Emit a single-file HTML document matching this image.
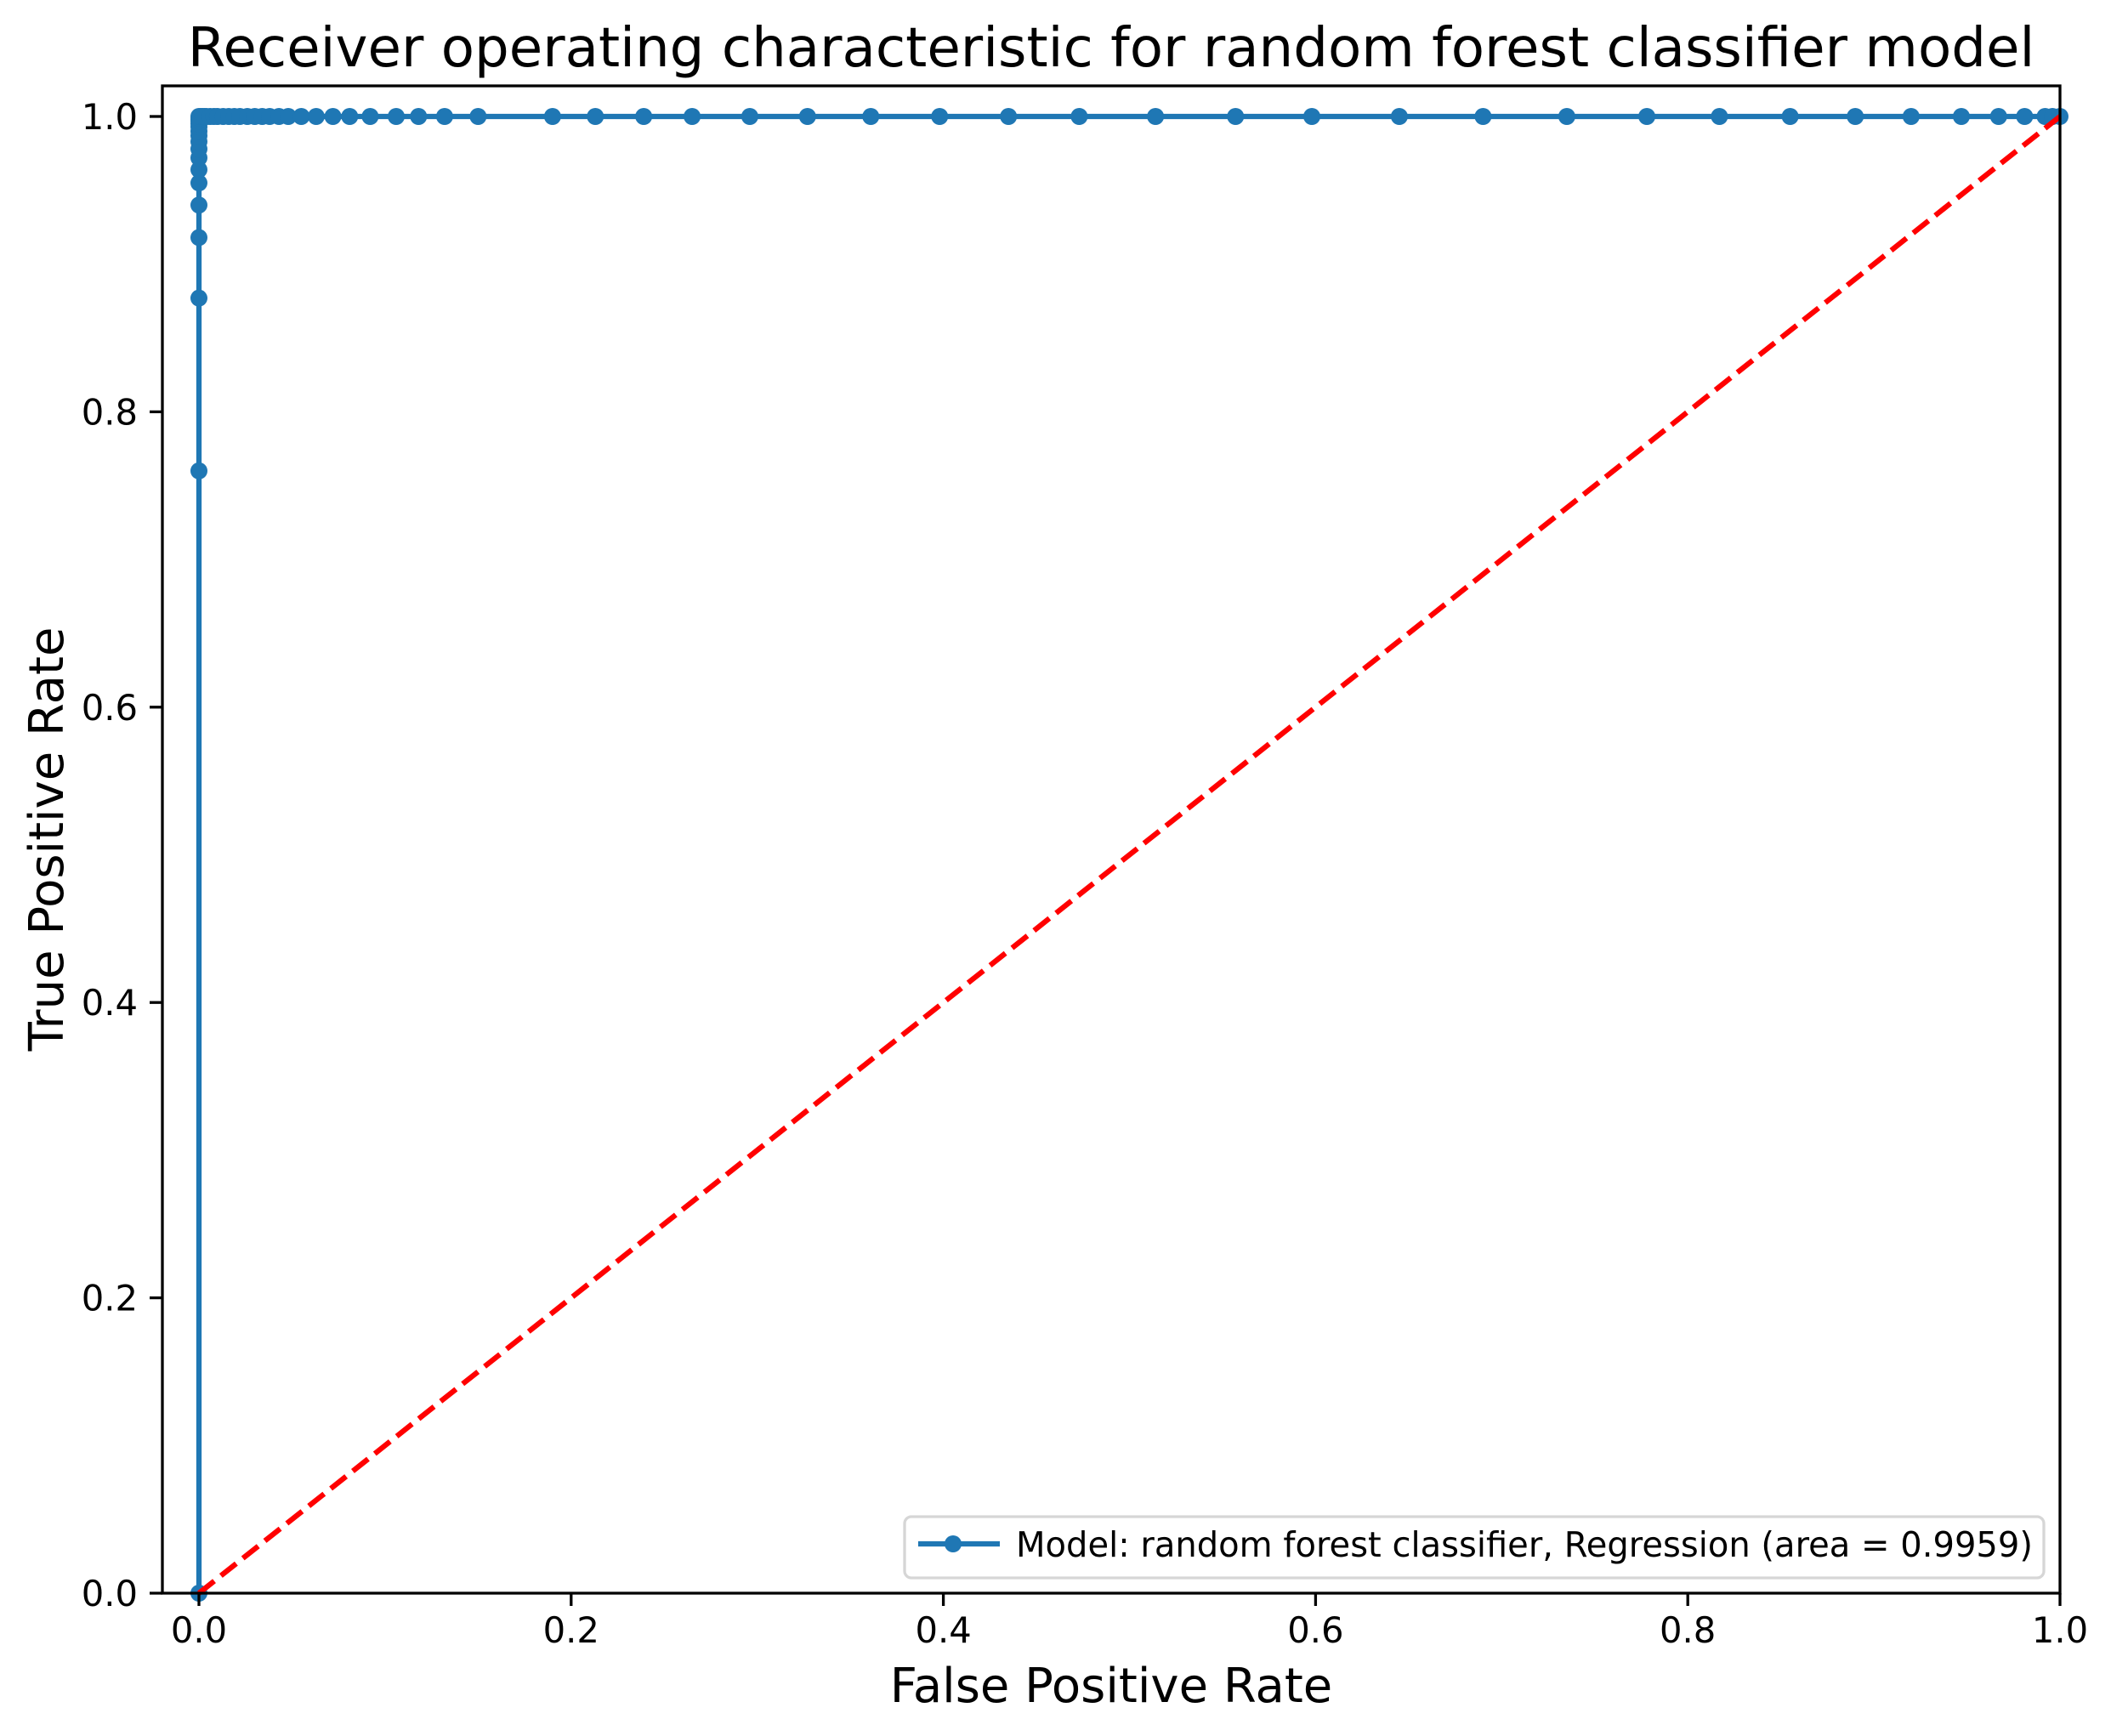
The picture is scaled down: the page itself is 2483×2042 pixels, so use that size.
<!DOCTYPE html>
<html><head><meta charset="utf-8"><style>
html,body{margin:0;padding:0;background:#fff;}
svg{display:block;font-family:"DejaVu Sans","Liberation Sans",sans-serif;}
</style></head><body>
<svg id="chart" width="2483" height="2042" viewBox="0 0 2483 2042" xmlns="http://www.w3.org/2000/svg">
<rect width="2483" height="2042" fill="#fff"/>
<text x="1307" y="78" font-size="64.2" text-anchor="middle">Receiver operating characteristic for random forest classifier model</text>
<g id="grid"></g>
<g id="plot"></g>
<rect x="191" y="101" width="2232" height="1773" fill="none" stroke="#000" stroke-width="3.3"/>
<g id="ticks"></g>
<text x="1307" y="2002" font-size="56" text-anchor="middle">False Positive Rate</text>
<text x="0" y="0" font-size="56" text-anchor="middle" transform="translate(74,987) rotate(-90)">True Positive Rate</text>
<g>
<rect x="1064" y="1784" width="1340" height="72" rx="8" fill="#fff" fill-opacity="0.8" stroke="#d6d6d6" stroke-width="3.3"/>
<line x1="1080" y1="1816" x2="1176" y2="1816" stroke="#1f77b4" stroke-width="6.25"/>
<circle cx="1121" cy="1816" r="10" fill="#1f77b4"/>
<text x="1195" y="1831" font-size="41" textLength="1196" lengthAdjust="spacingAndGlyphs">Model: random forest classifier, Regression (area = 0.9959)</text>
</g>
</svg>
<script>
const fpr = [0,0,0,0,0,0,0,0,0,0,0,0,0,0,0,0,0,0,0.001,0.002,0.003,0.004,0.006,0.008,0.010,0.013,0.016,0.019,0.022,0.026,0.030,0.034,0.038,0.043,0.048,0.055,0.063,0.072,0.081,0.092,0.106,0.118,0.132,0.150,0.190,0.213,0.239,0.265,0.296,0.327,0.361,0.398,0.435,0.473,0.514,0.557,0.598,0.645,0.690,0.735,0.778,0.817,0.855,0.890,0.920,0.947,0.967,0.981,0.992,0.996,1.0];
const tpr = [0,0.760,0.877,0.918,0.940,0.955,0.964,0.972,0.978,0.983,0.987,0.990,0.993,0.995,0.997,0.998,0.999,1.0,1.0,1.0,1.0,1.0,1.0,1.0,1.0,1.0,1.0,1.0,1.0,1.0,1.0,1.0,1.0,1.0,1.0,1.0,1.0,1.0,1.0,1.0,1.0,1.0,1.0,1.0,1.0,1.0,1.0,1.0,1.0,1.0,1.0,1.0,1.0,1.0,1.0,1.0,1.0,1.0,1.0,1.0,1.0,1.0,1.0,1.0,1.0,1.0,1.0,1.0,1.0,1.0,1.0];
const xTicks = [0.0,0.2,0.4,0.6,0.8,1.0];
const xTickLabels = ["0.0","0.2","0.4","0.6","0.8","1.0"];
const yTicks = [0.0,0.2,0.4,0.6,0.8,1.0];
const yTickLabels = ["0.0","0.2","0.4","0.6","0.8","1.0"];
const chanceX = [0,1];
const chanceY = [0,1];

const NS = "http://www.w3.org/2000/svg";
function sx(v){return 234 + v*2189;}
function sy(v){return 1874 - v*1737;}
function mk(tag, attrs, parent){const e=document.createElementNS(NS,tag);for(const k in attrs)e.setAttribute(k,attrs[k]);parent.appendChild(e);return e;}

const plot = document.getElementById('plot');
const ticks = document.getElementById('ticks');

let d = fpr.map((v,i)=>(i?'L':'M')+sx(v).toFixed(2)+','+sy(tpr[i]).toFixed(2)).join(' ');
const roc = mk('path',{d:d,fill:'none',stroke:'#1f77b4','stroke-width':6.25,'stroke-linejoin':'round'},plot);


fpr.forEach((v,i)=>{
  const c = mk('circle',{cx:sx(v),cy:sy(tpr[i]),r:10,fill:'#1f77b4'},plot);
  
  
});
const ch = mk('line',{x1:sx(chanceX[0]),y1:sy(chanceY[0]),x2:sx(chanceX[1]),y2:sy(chanceY[1]),stroke:'#ff0000','stroke-width':6.25,'stroke-dasharray':'23,10'},plot);



xTicks.forEach((v,i)=>{
  const t = mk('line',{x1:sx(v),y1:1874,x2:sx(v),y2:1889,stroke:'#000','stroke-width':3.3},ticks);
  
  
  const l = mk('text',{x:sx(v),y:1932,'font-size':41.7,'text-anchor':'middle'},ticks);
  l.textContent = xTickLabels[i];
  
  
});
yTicks.forEach((v,i)=>{
  const t = mk('line',{x1:176,y1:sy(v),x2:191,y2:sy(v),stroke:'#000','stroke-width':3.3},ticks);
  
  
  const l = mk('text',{x:162,y:sy(v)+15,'font-size':41.7,'text-anchor':'end'},ticks);
  l.textContent = yTickLabels[i];
  
  
});
</script>
</body></html>
